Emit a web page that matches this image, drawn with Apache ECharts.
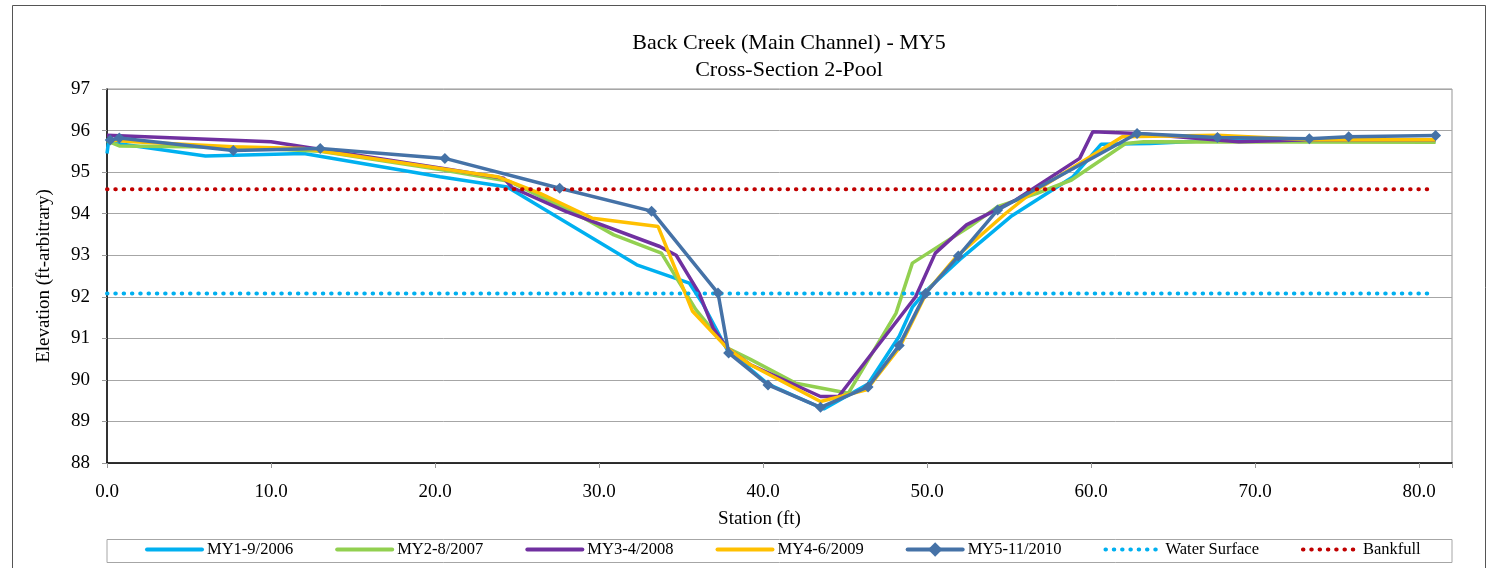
<!DOCTYPE html>
<html>
<head>
<meta charset="utf-8">
<script src="https://cdn.jsdelivr.net/npm/echarts@6/dist/echarts.min.js"></script>
<style>
  html, body { margin: 0; padding: 0; background: #fff; }
  #chart { width: 1488px; height: 568px; }
</style>
</head>
<body>
<div id="chart"></div>
<script>
// survey data: [station (ft), elevation (ft)]
var my1 = [[0, 95.45], [0.1, 95.75], [0.75, 95.68], [6.0, 95.39], [12.0, 95.45], [20.3, 94.89], [24.4, 94.64],
  [32.3, 92.77], [35.5, 92.33], [36.3, 91.85], [37.8, 90.73], [40.3, 89.9], [43.7, 89.3], [46.4, 89.9],
  [48.3, 91.05], [49.1, 91.75], [50.0, 92.17], [52.0, 92.9], [55.1, 93.93], [58.9, 94.89], [60.6, 95.67],
  [63.6, 95.69], [68.0, 95.77], [73.3, 95.8], [81.0, 95.75]];
var my2 = [[0, 95.75], [0.75, 95.63], [7.7, 95.6], [13.0, 95.5], [20.5, 95.05], [24.5, 94.78], [28.6, 94.0],
  [30.9, 93.49], [33.8, 93.05], [35.9, 91.69], [37.8, 90.77], [39.2, 90.5], [42.0, 89.92], [45.2, 89.68],
  [48.1, 91.6], [49.1, 92.81], [52.6, 93.69], [54.3, 94.17], [56.7, 94.49], [58.8, 94.81], [62.1, 95.69],
  [63.2, 95.73], [81.0, 95.72]];
var my3 = [[0, 95.89], [10.0, 95.73], [20.5, 95.09], [24.2, 94.85], [24.7, 94.63], [28.0, 94.05], [33.7, 93.21],
  [34.7, 93.0], [36.1, 92.09], [36.95, 91.25], [37.8, 90.77], [39.2, 90.37], [43.5, 89.6], [44.6, 89.6],
  [49.3, 92.0], [50.5, 93.05], [52.4, 93.73], [55.4, 94.33], [59.3, 95.33], [60.1, 95.97], [62.8, 95.93],
  [69.0, 95.73], [73.3, 95.78], [81.0, 95.78]];
var my4 = [[0, 95.78], [1.6, 95.73], [7.7, 95.61], [12.0, 95.57], [20.3, 95.09], [23.8, 94.89], [26.4, 94.49],
  [29.6, 93.89], [33.6, 93.69], [35.7, 91.65], [37.8, 90.77], [39.2, 90.37], [43.5, 89.48], [46.3, 89.76],
  [48.3, 90.77], [50.0, 92.13], [51.8, 92.97], [54.8, 94.01], [56.2, 94.45], [61.9, 95.85], [67.7, 95.89],
  [73.3, 95.78], [81.0, 95.78]];
var my5 = [[0.2, 95.77], [0.75, 95.82], [7.7, 95.52], [13.0, 95.57], [20.6, 95.33], [27.6, 94.61], [33.2, 94.06],
  [37.25, 92.09], [37.9, 90.65], [40.3, 89.88], [43.5, 89.34], [46.4, 89.83], [48.3, 90.83], [49.9, 92.08],
  [51.9, 92.98], [54.3, 94.09], [62.8, 95.93], [67.7, 95.83], [73.3, 95.8], [75.7, 95.85], [81.0, 95.88]];
var waterSurface = [[0, 92.08], [80.8, 92.08]];
var bankfull = [[0, 94.59], [80.8, 94.59]];

var names = ['MY1-9/2006', 'MY2-8/2007', 'MY3-4/2008', 'MY4-6/2009', 'MY5-11/2010', 'Water Surface', 'Bankfull'];
var colors = ['#00B0F0', '#92D050', '#7030A0', '#FFC000', '#4572A7', '#00B0F0', '#C00000'];

var serif = "'Liberation Serif', 'Times New Roman', serif";

function surveyLine(i, data) {
  return {
    name: names[i], type: 'line', data: data,
    showSymbol: false, symbol: 'none',
    lineStyle: { color: colors[i], width: 3.5 },
    itemStyle: { color: colors[i] }
  };
}
function dottedLine(i, data) {
  return {
    name: names[i], type: 'line', data: data,
    showSymbol: false, symbol: 'none',
    lineStyle: { color: colors[i], width: 4, type: [0.5, 7.8], cap: 'round' },
    itemStyle: { color: colors[i] }
  };
}

// legend entries: only MY5 shows a marker
var legendData = names.map(function (n, i) {
  return i === 4 ? { name: n } : { name: n, itemStyle: { opacity: 0 } };
});

var chart = echarts.init(document.getElementById('chart'), null, { renderer: 'canvas' });
var option = {
  animation: false,
  backgroundColor: '#fff',
  textStyle: { fontFamily: serif, color: '#000' },
  title: {
    text: 'Back Creek (Main Channel) - MY5\nCross-Section 2-Pool',
    left: 789, top: 30, textAlign: 'center', padding: 0,
    textStyle: { fontFamily: serif, fontSize: 22, fontWeight: 'normal', color: '#000', lineHeight: 27 }
  },
  grid: { left: 107, right: 36, top: 89, bottom: 105, show: true, borderColor: '#959595', borderWidth: 1, outerBoundsMode: 'none' },
  legend: {
    data: legendData,
    left: 145, top: 541, padding: 0,
    itemWidth: 55, itemHeight: 18, itemGap: 42,
    lineStyle: { width: 4, cap: 'round' },
    textStyle: { fontFamily: serif, fontSize: 16.5, color: '#000' }
  },
  xAxis: {
    type: 'value', min: 0, max: 82, interval: 10,
    name: 'Station (ft)', nameLocation: 'middle', nameGap: 47,
    nameTextStyle: { fontFamily: serif, fontSize: 19, color: '#000', padding: [0, 40, 0, 0] },
    axisLine: { show: true, onZero: false, lineStyle: { color: '#000', width: 1.5 } },
    axisTick: { show: true, length: 5, lineStyle: { color: '#999' } },
    axisLabel: {
      margin: 20, fontFamily: serif, fontSize: 19, color: '#000',
      formatter: function (v) { return v % 10 === 0 ? v.toFixed(1) : ''; }
    },
    splitLine: { show: false }
  },
  yAxis: {
    type: 'value', min: 88, max: 97, interval: 1,
    name: 'Elevation (ft-arbitrary)', nameLocation: 'middle', nameGap: 53,
    nameTextStyle: { fontFamily: serif, fontSize: 19, color: '#000' },
    axisLine: { show: true, onZero: false, lineStyle: { color: '#000', width: 1.5 } },
    axisTick: { show: true, length: 5, lineStyle: { color: '#999' } },
    axisLabel: { margin: 17, fontFamily: serif, fontSize: 19, color: '#000' },
    splitLine: { show: true, lineStyle: { color: '#a6a6a6', width: 1 } }
  },
  graphic: [
    { type: 'rect', z: -1, silent: true, shape: { x: 12.5, y: 5.5, width: 1473, height: 600 },
      style: { fill: 'none', stroke: '#555', lineWidth: 1 } },
    { type: 'rect', z: -1, silent: true, shape: { x: 107, y: 539.5, width: 1345, height: 23 },
      style: { fill: 'none', stroke: '#a6a6a6', lineWidth: 1 } }
  ],
  series: [
    surveyLine(0, my1),
    surveyLine(1, my2),
    surveyLine(2, my3),
    surveyLine(3, my4),
    {
      name: names[4], type: 'line', data: my5,
      symbol: 'diamond', symbolSize: 11, showSymbol: true,
      lineStyle: { color: colors[4], width: 3.5 },
      itemStyle: { color: colors[4] }
    },
    dottedLine(5, waterSurface),
    dottedLine(6, bankfull)
  ]
};
chart.setOption(option);
</script>
</body>
</html>
